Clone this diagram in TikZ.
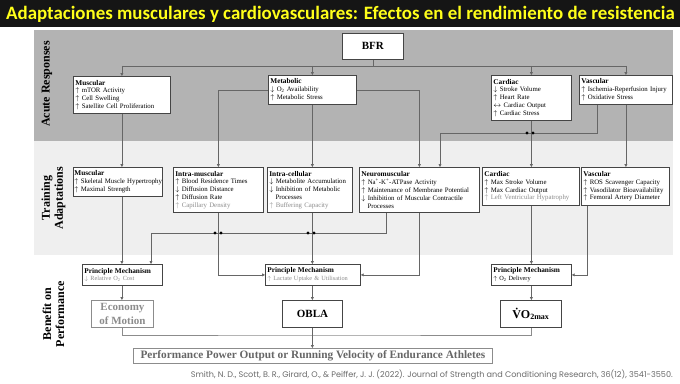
\documentclass[tikz,border=0pt]{standalone}
\usepackage{fontspec}
\setmainfont{Liberation Serif}
\newfontfamily\titlefont{Carlito}
\newfontfamily\citefont{Poppins}
\usetikzlibrary{arrows.meta,positioning}
\definecolor{barblack}{HTML}{151515}
\definecolor{titleyellow}{HTML}{FFFF1A}
\definecolor{acutegrey}{HTML}{B3B3B3}
\definecolor{traingrey}{HTML}{EFEFEF}
\definecolor{edgegrey}{HTML}{454545}
\definecolor{wiregrey}{HTML}{666666}
\definecolor{softgrey}{HTML}{8C8C8C}
\definecolor{citegrey}{HTML}{6A6A6A}
\newcommand{\up}{$\uparrow$\ }
\newcommand{\dn}{$\downarrow$\ }
\newcommand{\hd}[1]{{\fontsize{7.3}{8.6}\selectfont\bfseries #1}}

\begin{document}
\begin{tikzpicture}[
  x=1pt, y=-1pt,
  box/.style={draw=edgegrey, fill=white, line width=0.8pt, anchor=north west, align=left,
    inner xsep=2pt, inner ysep=1pt, font=\fontsize{6.8}{7.8}\selectfont},
  outcome/.style={draw=edgegrey, fill=white, line width=0.9pt, anchor=north west, align=center,
    inner sep=1pt, font=\fontsize{11}{13.5}\selectfont\bfseries},
  rowlabel/.style={rotate=90, align=center, font=\fontsize{12}{13}\selectfont\bfseries},
  wire/.style={draw=wiregrey, line width=0.6pt},
  arrow/.style={wire, -{Triangle[length=2.8pt,width=2.8pt]}},
  hop/.style={circle, fill=black, inner sep=0pt, minimum size=3.2pt}
]
\useasboundingbox (0,0) rectangle (680,383);

% title bar and bands
\fill[barblack] (0,0) rectangle (680,27);
\node[anchor=west, inner sep=0pt, text=titleyellow, font=\titlefont\bfseries\fontsize{18.9}{20}\selectfont] (title) at (6,14)
  {Adaptaciones musculares y cardiovasculares: Efectos en el rendimiento de resistencia};
\fill[acutegrey] (34,30) rectangle (673,141);
\fill[traingrey] (34,141) rectangle (673,255);

\node[rowlabel] (lacute) at (47,84) {Acute Responses};
\node[rowlabel] (ltrain) at (53.5,198) {Training\\Adaptations};
\node[rowlabel] (lbenefit) at (53.5,314) {Benefit on\\Performance};

% acute responses
\node[box, align=center, inner sep=0pt, minimum width=61pt, minimum height=26pt, font=\fontsize{11}{13}\selectfont\bfseries] (bfr) at (342,33) {BFR};
\node[box, text width=93pt, minimum height=37pt] (amus) at (73,76)
  {\hd{Muscular}\\\up mTOR Activity\\\up Cell Swelling\\\up Satellite Cell Proliferation};
\node[box, text width=84pt, minimum height=29pt] (amet) at (268,75)
  {\hd{Metabolic}\\\dn O\textsubscript{2} Availability\\\up Metabolic Stress};
\node[box, text width=76pt, minimum height=45pt] (acar) at (491,75)
  {\hd{Cardiac}\\\dn Stroke Volume\\\up Heart Rate\\$\leftrightarrow$\ Cardiac Output\\\up Cardiac Stress};
\node[box, text width=89pt, minimum height=29pt] (avas) at (579,75)
  {\hd{Vascular}\\\up Ischemia-Reperfusion Injury\\\up Oxidative Stress};

% training adaptations
\node[box, inner xsep=1pt, text width=87pt, minimum height=29pt] (tmus) at (73,167)
  {\hd{Muscular}\\\mbox{\up Skeletal Muscle Hypertrophy}\\\up Maximal Strength};
\node[box, text width=86pt, minimum height=45pt] (tint) at (173,167)
  {\hd{Intra-muscular}\\\up Blood Residence Times\\\dn Diffusion Distance\\\up Diffusion Rate\\\textcolor{softgrey}{\up Capillary Density}};
\node[box, text width=81pt, minimum height=45pt] (tcel) at (267,167)
  {\hd{Intra-cellular}\\\dn Metabolite Accumulation\\\dn Inhibition of Metabolic\\\hspace*{0.9em}Processes\\\textcolor{softgrey}{\up Buffering Capacity}};
\node[box, text width=116pt, minimum height=45pt] (tneu) at (359,167)
  {\hd{Neuromuscular}\\\up Na\textsuperscript{+}-K\textsuperscript{+}-ATPase Activity\\\up Maintenance of Membrane Potential\\\dn Inhibition of Muscular Contractile\\\hspace*{0.9em}Processes};
\node[box, text width=93pt, minimum height=38pt] (tcar) at (482,167)
  {\hd{Cardiac}\\\up Max Stroke Volume\\\up Max Cardiac Output\\\textcolor{softgrey}{\up Left Ventricular Hypatrophy}};
\node[box, text width=84pt, minimum height=38pt] (tvas) at (581,167)
  {\hd{Vascular}\\\up ROS Scavenger Capacity\\\up Vasodilator Bioavailability\\\up Femoral Artery Diameter};

% benefit on performance
\node[box, text width=76pt, minimum height=21pt, font=\fontsize{6.3}{7.6}\selectfont] (pm1) at (82,264)
  {\hd{Principle Mechanism}\\\textcolor{softgrey}{\dn Relative O\textsubscript{2} Cost}};
\node[box, text width=91pt, minimum height=21pt, font=\fontsize{6.3}{7.6}\selectfont] (pm2) at (265,264)
  {\hd{Principle Mechanism}\\\textcolor{softgrey}{\up Lactate Uptake \& Utilisation}};
\node[box, text width=76pt, minimum height=21pt, font=\fontsize{6.3}{7.6}\selectfont] (pm3) at (491,264)
  {\hd{Principle Mechanism}\\\up O\textsubscript{2} Delivery};
\node[outcome, draw=softgrey, text=softgrey, minimum width=62pt, minimum height=27pt] (eco) at (91,300) {Economy\\of Motion};
\node[outcome, minimum width=60pt, minimum height=27pt] (obla) at (282,300) {OBLA};
\node[outcome, minimum width=61pt, minimum height=27pt] (vo2) at (500,300) {\fontsize{12}{13}\selectfont\.{V}O\textsubscript{2max}};
\node[outcome, draw=softgrey, text=wiregrey, inner sep=0pt, minimum width=359pt, minimum height=15pt, font=\fontsize{11.3}{13}\selectfont\bfseries] (perf) at (133,348)
  {Performance Power Output or Running Velocity of Endurance Athletes};

\node[anchor=east, inner sep=0pt, text=citegrey, font=\citefont\fontsize{8.1}{9}\selectfont] (cite) at (673,375)
  {Smith, N. D., Scott, B. R., Girard, O., \& Peiffer, J. J. (2022). Journal of Strength and Conditioning Research, 36(12), 3541-3550.};

% junction points
\coordinate (bfrbus) at ([yshift=-6pt]bfr.south);
\coordinate (vasjoin) at (440,133);
\coordinate (neujoin) at (151,233);
\coordinate (sumbus) at (312,335);

% BFR to acute responses
\draw[wire] (bfr.south) -- (bfrbus);
\draw[wire] (amus.north |- bfrbus) -- (avas.north |- bfrbus);
\foreach \n in {amus,amet,acar,avas}
  \draw[arrow] (\n.north |- bfrbus) -- (\n.north);

% acute responses to training adaptations
\draw[arrow] (amus.south) -- (amus.south |- tmus.north);
\draw[arrow] (amet.west) -| (tint.north);
\draw[arrow] (amet.south) -- (amet.south |- tcel.north);
\draw[arrow] (amet.east) -| (tneu.north);
\draw[arrow] (acar.south) -- (acar.south |- tcar.north);
\draw[arrow] (avas.south) -- (avas.south |- tvas.north);
\draw[arrow] ([xshift=-29pt]avas.south) |- (vasjoin) -- (vasjoin |- tneu.north);

% training adaptations to mechanisms
\draw[arrow] (amus.south |- tmus.south) -- (amus.south |- pm1.north);
\draw[arrow] (tint.south) |- (pm2.west);
\draw[arrow] (amet.south |- tcel.south) -- (amet.south |- pm2.north);
\draw[arrow] ([xshift=-33pt]tneu.south) |- (neujoin) -- (neujoin |- pm1.north);
\draw[arrow] (tneu.south) |- (pm2.east);
\draw[arrow] (acar.south |- tcar.south) -- (acar.south |- pm3.north);
\draw[arrow] ([xshift=-38pt]tvas.south) |- (pm3.east);

% line hops
\foreach \px/\py [count=\i] in {527/133, 533/133, 215/233, 221/233, 308/233, 314/233}
  \node[hop] (hop\i) at (\px,\py) {};

% mechanisms to outcomes
\draw[arrow] (amus.south |- pm1.south) -- (amus.south |- eco.north);
\draw[arrow] (amet.south |- pm2.south) -- (amet.south |- obla.north);
\draw[arrow] (acar.south |- pm3.south) -- (acar.south |- vo2.north);
\draw[wire, draw=softgrey] (amus.south |- eco.south) |- (sumbus) -| (acar.south |- vo2.south);
\draw[arrow] (amet.south |- obla.south) -- (amet.south |- perf.north);
\end{tikzpicture}
\end{document}
